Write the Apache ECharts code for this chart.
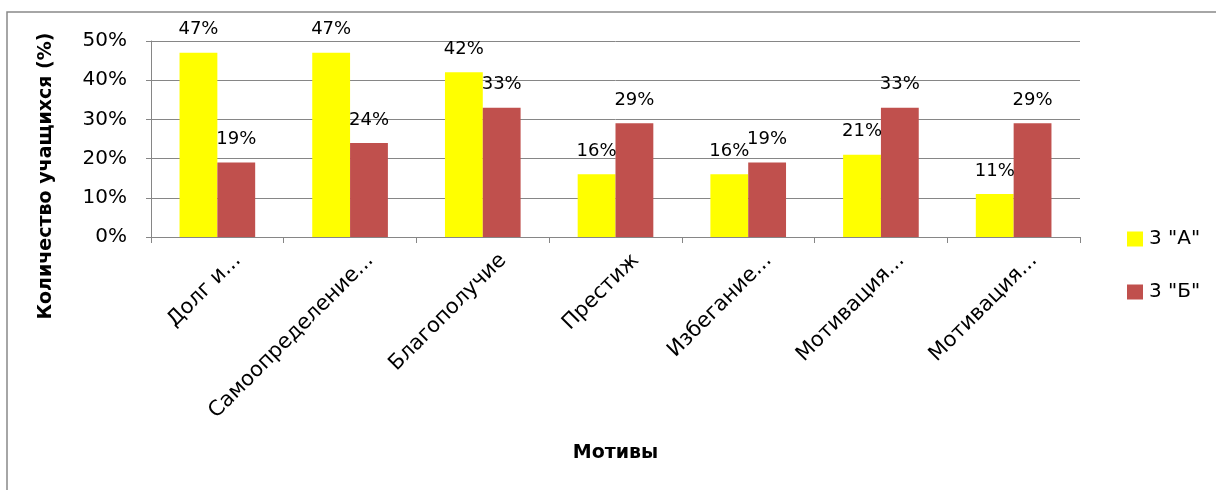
<!DOCTYPE html>
<html>
<head>
<meta charset="utf-8">
<title>Мотивы</title>
<script src="https://cdn.jsdelivr.net/npm/echarts@6/dist/echarts.min.js"></script>
<style>
  html, body { margin: 0; padding: 0; background: #fff; }
  #chart { width: 1216px; height: 490px; }
</style>
</head>
<body>
<div id="chart"></div>
<script>
// Motive categories (labels as shown on the axis)
const categories = ['Долг и...', 'Самоопределение...', 'Благополучие', 'Престиж', 'Избегание...', 'Мотивация...', 'Мотивация...'];
// Share of pupils per class, %
const class3A = [47, 47, 42, 16, 16, 21, 11];
const class3B = [19, 24, 33, 29, 19, 33, 29];
const seriesNames = ['3 "А"', '3 "Б"'];
// Y axis scale
const yMin = 0, yMax = 50, yStep = 10;
const yTitle = 'Количество учащихся (%)';

const FONT = 'DejaVu Sans';
const GRID = '#868686';

const chart = echarts.init(document.getElementById('chart'));

const labelStyle = {
  show: true,
  position: 'top',
  distance: 14,
  formatter: '{c}%',
  color: '#000',
  fontFamily: FONT,
  fontSize: 18
};

chart.setOption({
  animation: false,
  graphic: [
    {
      // chart area frame
      type: 'rect',
      shape: { x: 7, y: 12, width: 1400, height: 700 },
      style: { fill: 'none', stroke: '#898989', lineWidth: 1.5 },
      silent: true
    },
    {
      // vertical axis title
      type: 'text',
      x: 46,
      y: 176,
      rotation: Math.PI / 2,
      style: {
        text: yTitle,
        fontFamily: FONT,
        fontSize: 19,
        fontWeight: 'bold',
        fill: '#000',
        align: 'center',
        verticalAlign: 'middle'
      },
      silent: true
    }
  ],
  grid: { left: 151, right: 136, top: 41, bottom: 253, outerBoundsMode: 'none', containLabel: false },
  legend: {
    orient: 'vertical',
    left: 1122,
    top: 224,
    icon: 'rect',
    itemWidth: 16,
    itemHeight: 15,
    itemGap: 33,
    textStyle: { fontFamily: FONT, fontSize: 20, color: '#000', padding: [0, 0, 0, 1] },
    data: seriesNames
  },
  xAxis: {
    type: 'category',
    data: categories,
    name: 'Мотивы',
    nameLocation: 'middle',
    nameGap: 207,
    nameTextStyle: { fontFamily: FONT, fontSize: 19, fontWeight: 'bold', color: '#000' },
    axisLine: { lineStyle: { color: GRID, width: 1 } },
    axisTick: { show: true, length: 6, lineStyle: { color: GRID } },
    axisLabel: {
      interval: 0,
      rotate: 45,
      margin: 0,
      verticalAlign: 'top',
      padding: [18, 0, 0, 0],
      fontFamily: FONT,
      fontSize: 21,
      color: '#000'
    }
  },
  yAxis: {
    type: 'value',
    min: yMin,
    max: yMax,
    interval: yStep,
    axisLine: { show: true, lineStyle: { color: GRID, width: 1 } },
    axisTick: { show: true, length: 5, lineStyle: { color: GRID } },
    axisLabel: {
      formatter: '{value}%',
      margin: 24,
      fontFamily: FONT,
      fontSize: 20,
      color: '#000'
    },
    splitLine: { show: true, lineStyle: { color: GRID, width: 1 } }
  },
  series: [
    {
      name: seriesNames[0],
      type: 'bar',
      data: class3A,
      barGap: '0%',
      barCategoryGap: '43%',
      itemStyle: { color: '#FFFF00' },
      label: labelStyle
    },
    {
      name: seriesNames[1],
      type: 'bar',
      data: class3B,
      barGap: '0%',
      barCategoryGap: '43%',
      itemStyle: { color: '#C0504D' },
      label: labelStyle
    }
  ]
});
</script>
</body>
</html>
